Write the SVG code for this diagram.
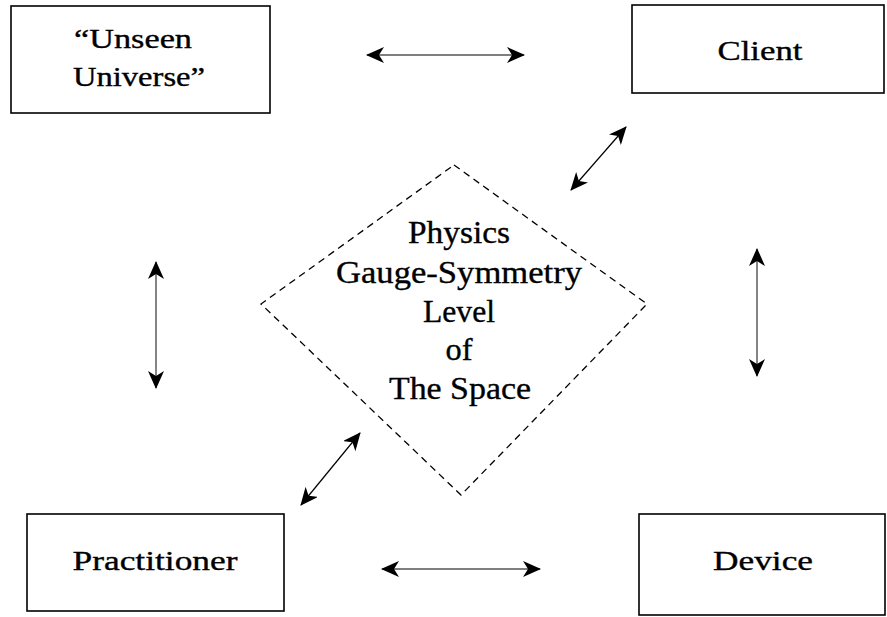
<svg xmlns="http://www.w3.org/2000/svg" width="887" height="617" viewBox="0 0 887 617">
<style>
.box{fill:#fff;stroke:#000;stroke-width:1.6}
.t{font-family:"Liberation Serif","Times New Roman",serif;fill:#000;text-anchor:middle;stroke:#000;stroke-width:0.35}
.bt{font-size:27px}
.ct{font-size:31px}
.c{stroke:#000;stroke-width:1.2;fill:none}
.g{stroke:#666;stroke-width:1.6;fill:none}
</style>
<defs>
<marker id="ah" viewBox="0 0 18 16" refX="17" refY="8" markerWidth="18" markerHeight="16" markerUnits="userSpaceOnUse" orient="auto-start-reverse">
<path d="M0,0 L18,8 L0,16 L5,8 z" fill="#000"/>
</marker>
</defs>
<rect width="887" height="617" fill="#fff"/>
<g id="unseen">
<rect class="box" x="11" y="6" width="259" height="107"/>
<text class="t bt" x="133" y="48" textLength="118" lengthAdjust="spacingAndGlyphs">“Unseen</text>
<text class="t bt" x="139" y="86" textLength="132" lengthAdjust="spacingAndGlyphs">Universe”</text>
</g>
<g id="client">
<rect class="box" x="632" y="5" width="252" height="88"/>
<text class="t bt" x="760" y="60" textLength="85" lengthAdjust="spacingAndGlyphs">Client</text>
</g>
<g id="practitioner">
<rect class="box" x="27" y="514" width="257" height="97"/>
<text class="t bt" x="155" y="570" textLength="165" lengthAdjust="spacingAndGlyphs">Practitioner</text>
</g>
<g id="device">
<rect class="box" x="639" y="514" width="246" height="101"/>
<text class="t bt" x="763" y="570" textLength="100" lengthAdjust="spacingAndGlyphs">Device</text>
</g>
<g id="center">
<polygon points="454,165 647,304 461,495 261,304" fill="none" stroke="#000" stroke-width="1.3" stroke-dasharray="7,5"/>
<text class="t ct" x="459" y="243" textLength="102" lengthAdjust="spacingAndGlyphs">Physics</text>
<text class="t ct" x="459" y="283" textLength="246" lengthAdjust="spacingAndGlyphs">Gauge-Symmetry</text>
<text class="t ct" x="459" y="322" textLength="72" lengthAdjust="spacingAndGlyphs">Level</text>
<text class="t ct" x="459" y="360" textLength="27" lengthAdjust="spacingAndGlyphs">of</text>
<text class="t ct" x="460" y="399" textLength="142" lengthAdjust="spacingAndGlyphs">The Space</text>
</g>
<g id="connectors">
<line class="c" x1="367" y1="55" x2="524" y2="55" marker-start="url(#ah)" marker-end="url(#ah)"/>
<line class="c" x1="571" y1="190" x2="626" y2="127" marker-start="url(#ah)" marker-end="url(#ah)"/>
<line class="g" x1="156" y1="262" x2="156" y2="388" marker-start="url(#ah)" marker-end="url(#ah)"/>
<line class="g" x1="757" y1="249" x2="757" y2="376" marker-start="url(#ah)" marker-end="url(#ah)"/>
<line class="c" x1="301" y1="505" x2="360" y2="433" marker-start="url(#ah)" marker-end="url(#ah)"/>
<line class="c" x1="382" y1="569" x2="540" y2="569" marker-start="url(#ah)" marker-end="url(#ah)"/>
</g>
</svg>
